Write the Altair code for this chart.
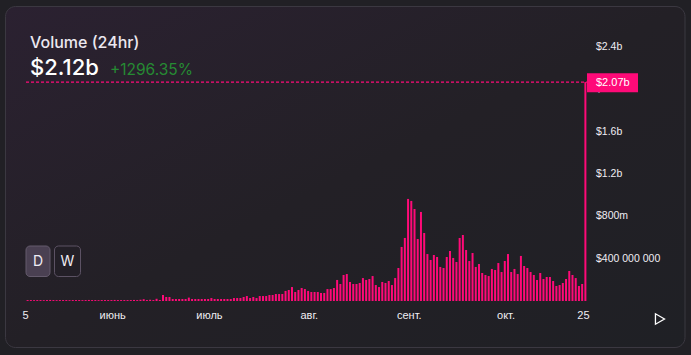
import altair as alt
import pandas as pd

# ---- data (daily volume, millions of USD) ----
start_date = "2024-05-05"
vol_early = [9, 9, 8, 9, 9, 8, 9, 10, 9, 8, 9, 9, 9, 8, 9, 9, 9, 8, 9, 10, 9,
             9, 8, 9, 9, 9, 9, 10, 9, 9, 9, 9, 9, 10, 9, 12, 17, 9, 12, 9, 21]
vol_mid = [9.5, 57, 38, 38, 19, 19, 19, 19, 19, 32, 19, 19, 19, 19, 19, 19, 28,
           19, 19, 19, 19, 19, 19, 28, 28, 28, 38, 47, 28, 38, 28, 47, 47, 47,
           57, 57, 66, 66, 66, 95, 104, 132, 85, 104, 123, 113, 95, 85, 85, 85,
           76, 76, 113, 113, 123, 199, 161, 246, 255, 180, 161, 161, 170, 217,
           199, 208, 236, 151, 132, 180, 170, 189, 151, 217, 312]
vol_late = [511, 596, 965, 946, 870, 586, 842, 643, 444, 388, 435, 416, 322, 312,
            416, 473, 407, 369, 596, 624, 482, 378, 454, 322, 350, 265, 246, 236,
            303, 293, 359, 274, 378, 444, 274, 303, 255, 426, 331, 312, 274, 246,
            199, 265, 208, 227, 227, 189, 142, 151, 170, 208, 284, 246, 217, 142,
            161, 2070]
volumes_m = vol_early + vol_mid + vol_late

x_tick_dates = ["2024-05-05", "2024-06-01", "2024-07-01", "2024-08-01",
                "2024-09-01", "2024-10-01", "2024-10-25"]
x_tick_labels = ["5", "июнь", "июль", "авг.", "сент.", "окт.", "25"]

y_tick_values_b = [0.4, 0.8, 1.2, 1.6, 2.0, 2.4]
y_tick_labels = ["$400 000 000", "$800m", "$1.2b", "$1.6b", "$2b", "$2.4b"]

current_b = 2.07
current_label = "$2.07b"
title_text = "Volume (24hr)"
big_value = "$2.12b"
change_text = "+1296.35%"

# ---- tables ----
dates = pd.date_range(start_date, periods=len(volumes_m), freq="D").strftime("%Y-%m-%dT00:00:00")
bars_df = pd.DataFrame({"date": list(dates), "vol": [v / 1000 for v in volumes_m]})
xlab_df = pd.DataFrame({"date": [d + "T00:00:00" for d in x_tick_dates], "label": x_tick_labels})
ylab_df = pd.DataFrame({"val": y_tick_values_b, "label": y_tick_labels})
one = pd.DataFrame({"k": [0]})

W, H = 561, 275
PINK = "#ff0a78"
TXT = "#efedf2"

xscale = alt.Scale(domain=[alt.DateTime(year=2024, month=5, date=4, hours=12),
                           alt.DateTime(year=2024, month=10, date=25, hours=12)],
                   nice=False, padding=0)
yscale = alt.Scale(domain=[0, 2.6], nice=False)

card = alt.Chart(one).mark_rect(
    cornerRadius=10, stroke="#3b3841", strokeWidth=1,
    fill=alt.Gradient(gradient="linear", x1=0, y1=0, x2=1, y2=1,
                      stops=[alt.GradientStop(color="#2b2131", offset=0),
                             alt.GradientStop(color="#232026", offset=0.5),
                             alt.GradientStop(color="#1f2025", offset=1)])
).encode(x=alt.value(-20.5), x2=alt.value(659), y=alt.value(-19.5), y2=alt.value(321.5))

bars = alt.Chart(bars_df).mark_bar(width=2, color=PINK).encode(
    x=alt.X("date:T", scale=xscale, axis=None),
    y=alt.Y("vol:Q", scale=yscale, axis=None),
)

rule = alt.Chart(one).mark_rule(color=PINK, strokeDash=[3, 2], strokeWidth=1.2).encode(
    y=alt.YDatum(current_b, scale=yscale, axis=None), x=alt.value(0), x2=alt.value(W)
)

ylabels = alt.Chart(ylab_df).mark_text(
    align="left", baseline="middle", font="Liberation Sans", fontSize=10.5, color=TXT
).encode(y=alt.Y("val:Q", scale=yscale, axis=None), x=alt.value(570), text="label:N")

xlabels = alt.Chart(xlab_df).mark_text(
    align="center", baseline="alphabetic", font="Liberation Sans", fontSize=11, color=TXT, dx=-2
).encode(x=alt.X("date:T", scale=xscale, axis=None), y=alt.value(292.5), text="label:N")

hbox = alt.Chart(one).mark_rect(color=PINK).encode(
    x=alt.value(561), x2=alt.value(612), y=alt.value(47.3), y2=alt.value(66.3)
)
htext = alt.Chart(one).mark_text(
    align="left", baseline="middle", font="Liberation Sans", fontSize=11, color="white"
).encode(x=alt.value(570), y=alt.value(57), text=alt.value(current_label))

t1 = alt.Chart(one).mark_text(
    align="left", baseline="alphabetic", font="Inter", fontSize=16, fontWeight=500, color="#ece8f0"
).encode(x=alt.value(4), y=alt.value(21.7), text=alt.value(title_text))
t2 = alt.Chart(one).mark_text(
    align="left", baseline="alphabetic", font="Inter", fontSize=22, fontWeight=500, color="white"
).encode(x=alt.value(4), y=alt.value(49), text=alt.value(big_value))
t3 = alt.Chart(one).mark_text(
    align="left", baseline="alphabetic", font="Inter", fontSize=15.5, color="#268a33"
).encode(x=alt.value(84), y=alt.value(49), text=alt.value(change_text))

btn_d = alt.Chart(one).mark_rect(cornerRadius=4, fill="#4a4052", stroke="#655b6d").encode(
    x=alt.value(0), x2=alt.value(24), y=alt.value(220), y2=alt.value(250.5))
btn_w = alt.Chart(one).mark_rect(cornerRadius=4, fill="#231f27", stroke="#5c5264").encode(
    x=alt.value(28.5), x2=alt.value(54.5), y=alt.value(220), y2=alt.value(250.5))
btn_dt = alt.Chart(one).mark_text(font="Inter", fontSize=14, color="#f0ecf2", baseline="middle").encode(
    x=alt.value(12), y=alt.value(235.5), text=alt.value("D"))
btn_wt = alt.Chart(one).mark_text(font="Inter", fontSize=14, color="#f0ecf2", baseline="middle").encode(
    x=alt.value(41.5), y=alt.value(235.5), text=alt.value("W"))

play = alt.Chart(one).mark_point(shape="triangle-right", filled=False, color="white",
                                 strokeWidth=1.3, size=110, opacity=1).encode(
    x=alt.value(634), y=alt.value(293))

chart = alt.layer(card, bars, rule, ylabels, xlabels, hbox, htext, t1, t2, t3,
                  btn_d, btn_w, btn_dt, btn_wt, play).properties(
    width=W, height=H,
    padding={"left": 26, "top": 26, "right": 691 - 26 - W, "bottom": 355 - 26 - H},
    autosize=alt.AutoSizeParams(type="none"),
    background="#212025",
).configure_view(stroke=None).configure_axis(disable=True)

chart.save("out.html", embed_options={"renderer": "svg", "actions": False})
